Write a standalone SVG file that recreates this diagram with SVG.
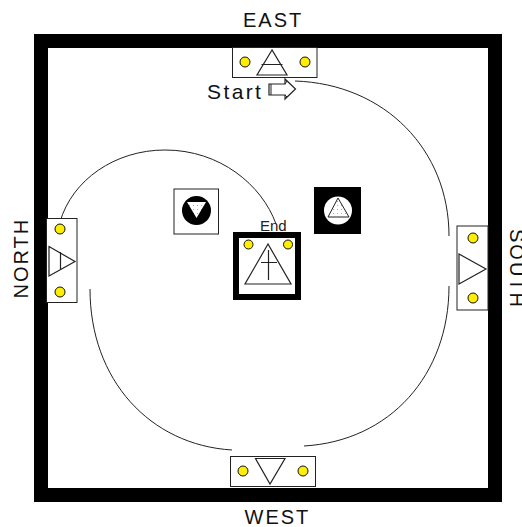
<svg xmlns="http://www.w3.org/2000/svg" width="522" height="527" viewBox="0 0 522 527">
<style>
.t{font-family:"Liberation Sans",Arial,sans-serif;font-size:20px;letter-spacing:2px;fill:#111}
.b{fill:#fff;stroke:#222;stroke-width:1}
.l{fill:none;stroke:#222;stroke-width:1.200}
.d{fill:#ffee00;stroke:#111;stroke-width:1}
.c{fill:none;stroke:#222;stroke-width:1}
</style>
<defs>
<pattern id="dots" width="4" height="4" patternUnits="userSpaceOnUse"><rect width="4" height="4" fill="#fff"/><rect x="1" y="1" width="1" height="1" fill="#aaa"/></pattern>
</defs>
<rect width="522" height="527" fill="#fff"/>
<g id="room"><rect x="41" y="41" width="454" height="454" fill="#fff" stroke="#000" stroke-width="14"/></g>
<g id="connectors">
<path class="c" d="M295 81C385 84 449 150 449 236"/>
<path class="c" d="M449 286C449 375 390 441 304 446"/>
<path class="c" d="M232 450C150 445 90 380 90 289"/>
<path class="c" d="M60 222C72 180 115 150 165 150C220 150 262 185 276 224"/>
</g>
<g id="east">
<rect class="b" x="232.500" y="47.500" width="84.500" height="30"/>
<circle class="d" cx="245" cy="62" r="5"/><circle class="d" cx="305" cy="62" r="5"/>
<path class="l" d="M272 50L257 75H287ZM261.500 64.500H282.500"/>
<text class="t" x="243" y="26.500">EAST</text>
</g>
<g id="start">
<text class="t" x="207" y="98.500" style="font-size:21px;letter-spacing:2.400px">Start</text>
<path fill="#fff" stroke="#222" stroke-width="1.200" d="M269 84H285V79L295.500 89L285 99V95H269Z"/>
<path fill="none" stroke="#222" d="M271 84V95M287 81L285 84M287 97L285 95"/>
</g>
<g id="south">
<rect class="b" x="457" y="226" width="31" height="84"/>
<circle class="d" cx="473" cy="238" r="5"/><circle class="d" cx="473" cy="298" r="5"/>
<path class="l" d="M459 254V284L486 269Z"/>
<text class="t" transform="translate(510 229) rotate(90)">SOUTH</text>
</g>
<g id="west">
<rect class="b" x="230.500" y="456.500" width="85" height="30"/>
<circle class="d" cx="243" cy="471" r="5"/><circle class="d" cx="303" cy="471" r="5"/>
<path class="l" d="M255.500 458.500H285L270 484Z"/>
<text class="t" x="244.500" y="523.500">WEST</text>
</g>
<g id="north">
<rect class="b" x="46.500" y="218.500" width="30.500" height="84"/>
<circle class="d" cx="60" cy="229" r="5"/><circle class="d" cx="60" cy="292" r="5"/>
<path class="l" d="M49 246.500V276L75 261.500ZM60.500 252V270"/>
<text class="t" transform="translate(27.500 298.500) rotate(-90)">NORTH</text>
</g>
<g id="end">
<rect x="236" y="235" width="62" height="62" fill="#fff" stroke="#000" stroke-width="6"/>
<circle class="d" cx="248.500" cy="244.500" r="4.500"/><circle class="d" cx="288" cy="244.500" r="4.500"/>
<path class="l" d="M268 244L245 284H291ZM268.500 250V280M261 262.500H277"/>
<text x="260" y="231" font-family="'Liberation Sans',Arial,sans-serif" font-size="15" fill="#222">End</text>
</g>
<g id="left-symbol">
<rect class="b" x="174" y="189" width="44.500" height="45"/>
<circle cx="196.500" cy="210.500" r="14.500" fill="#000"/>
<path d="M187 202H206L196.500 218Z" fill="url(#dots)"/>
</g>
<g id="right-symbol">
<rect x="314" y="187" width="47" height="47" fill="#000"/>
<circle cx="338" cy="210.500" r="14" fill="#fff"/>
<path d="M338 198L328 217H349Z" fill="url(#dots)" stroke="#222"/>
</g>
</svg>
